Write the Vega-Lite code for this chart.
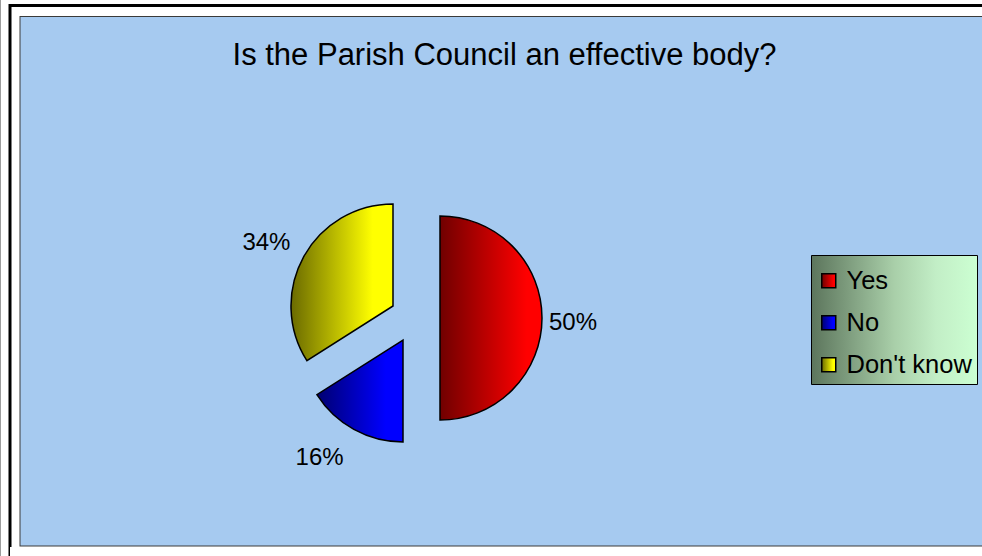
{
  "$schema": "https://vega.github.io/schema/vega-lite/v6.json",
  "width": 972,
  "height": 550,
  "autosize": {"type": "none"},
  "padding": {"left": 10, "top": 6, "right": 0, "bottom": 0},
  "background": "white",
  "view": {"stroke": null},
  "config": {"font": "Liberation Sans"},
  "title": {
    "text": "Is the Parish Council an effective body?",
    "fontSize": 31,
    "fontWeight": "normal",
    "font": "Liberation Sans",
    "color": "black",
    "anchor": "middle",
    "frame": "group",
    "baseline": "alphabetic",
    "offset": -48,
    "dy": 52,
    "dx": 8.5
  },
  "data": {
    "values": [
      {"answer": "Yes", "share": 0.50},
      {"answer": "No", "share": 0.16},
      {"answer": "Don't know", "share": 0.34}
    ]
  },
  "layer": [
    {
      "transform": [{"filter": "datum.answer === 'Yes'"}],
      "mark": {"type": "rect", "fill": "#A6CAF0", "stroke": "#3a3a3a", "strokeWidth": 21, "xOffset": 25, "yOffset": 0.5},
      "encoding": {}
    },
    {
      "transform": [{"filter": "datum.answer === 'Yes'"}],
      "mark": {"type": "rect", "fill": null, "fillOpacity": 0, "stroke": "white", "strokeWidth": 19, "xOffset": 25, "yOffset": 0.5},
      "encoding": {}
    },
    {
      "transform": [{"filter": "datum.answer === 'Yes'"}],
      "mark": {"type": "rect", "fill": null, "fillOpacity": 0, "stroke": "black", "strokeWidth": 3, "xOffset": 25, "yOffset": -0.5},
      "encoding": {}
    },
    {
      "transform": [{"filter": "datum.answer === 'Yes'"}],
      "mark": {"type": "rect", "fill": "white", "xOffset": 25, "yOffset": 541},
      "encoding": {}
    },
    {
      "encoding": {
        "theta": {"field": "share", "type": "quantitative", "stack": true},
        "order": {"field": "answer", "type": "ordinal", "sort": "descending"},
        "detail": {"field": "answer", "type": "nominal"}
      },
      "layer": [
        {
          "mark": {"type": "arc", "outerRadius": 102, "xOffset": -56, "yOffset": 37, "stroke": "black", "strokeWidth": 1.5},
          "encoding": {
            "fill": {
              "field": "answer",
              "type": "nominal",
              "scale": {
                "domain": ["Yes", "No", "Don't know"],
                "range": [
                  {"expr": "{gradient: 'linear', x1: 0, y1: 0, x2: 1, y2: 0, stops: [{offset: 0, color: '#700000'}, {offset: 0.85, color: '#ff0000'}, {offset: 1, color: '#ff0000'}]}"},
                  {"expr": "{gradient: 'linear', x1: 0, y1: 0, x2: 1, y2: 0, stops: [{offset: 0, color: '#000070'}, {offset: 0.8, color: '#0000ff'}, {offset: 1, color: '#0000ff'}]}"},
                  {"expr": "{gradient: 'linear', x1: 0, y1: 0, x2: 1, y2: 0, stops: [{offset: 0, color: '#6a6a00'}, {offset: 0.8, color: '#ffff00'}, {offset: 1, color: '#ffff00'}]}"}
                ]
              },
              "legend": {
                "orient": "none",
                "legendX": 801,
                "legendY": 249,
                "title": " ",
                "titleFontSize": 1,
                "titlePadding": 7,
                "symbolType": "square",
                "symbolSize": 196,
                "symbolStrokeColor": "black",
                "symbolStrokeWidth": 1.5,
                "labelFontSize": 25.5,
                "labelFont": "Liberation Sans",
                "labelColor": "black",
                "labelOffset": 5,
                "labelLimit": 300,
                "rowPadding": 15,
                "padding": 5,
                "strokeColor": "black",
                "fillColor": {"expr": "{gradient: 'linear', x1: 0, y1: 0, x2: 1, y2: 0, stops: [{offset: 0, color: '#5c755c'}, {offset: 0.5, color: '#a9cfa9'}, {offset: 0.75, color: '#c2eec6'}, {offset: 1, color: '#ccffd2'}]}"}
              }
            },
            "opacity": {"condition": {"test": "datum.answer === 'Yes'", "value": 1}, "value": 0}
          }
        },
        {
          "mark": {"type": "arc", "outerRadius": 102, "xOffset": -93, "yOffset": 59, "stroke": "black", "strokeWidth": 1.5},
          "encoding": {
            "fill": {"field": "answer", "type": "nominal"},
            "opacity": {"condition": {"test": "datum.answer === 'No'", "value": 1}, "value": 0}
          }
        },
        {
          "mark": {"type": "arc", "outerRadius": 102, "xOffset": -103, "yOffset": 25, "stroke": "black", "strokeWidth": 1.5},
          "encoding": {
            "fill": {"field": "answer", "type": "nominal"},
            "opacity": {"condition": {"test": "datum.answer === \"Don't know\"", "value": 1}, "value": 0}
          }
        },
        {
          "mark": {"type": "text", "radius": 133, "xOffset": -56, "yOffset": 37, "dy": 4.5, "fontSize": 24, "font": "Liberation Sans", "color": "black", "align": "center", "baseline": "middle"},
          "encoding": {
            "text": {"field": "share", "type": "quantitative", "format": ".0%"},
            "opacity": {"condition": {"test": "datum.answer === 'Yes'", "value": 1}, "value": 0}
          }
        },
        {
          "mark": {"type": "text", "radius": 144, "xOffset": -93, "yOffset": 59, "dx": -14, "dy": -8, "fontSize": 24, "font": "Liberation Sans", "color": "black", "align": "center", "baseline": "middle"},
          "encoding": {
            "text": {"field": "share", "type": "quantitative", "format": ".0%"},
            "opacity": {"condition": {"test": "datum.answer === 'No'", "value": 1}, "value": 0}
          }
        },
        {
          "mark": {"type": "text", "radius": 141, "xOffset": -103, "yOffset": 25, "dx": -3, "dy": 5, "fontSize": 24, "font": "Liberation Sans", "color": "black", "align": "center", "baseline": "middle"},
          "encoding": {
            "text": {"field": "share", "type": "quantitative", "format": ".0%"},
            "opacity": {"condition": {"test": "datum.answer === \"Don't know\"", "value": 1}, "value": 0}
          }
        }
      ]
    }
  ]
}
